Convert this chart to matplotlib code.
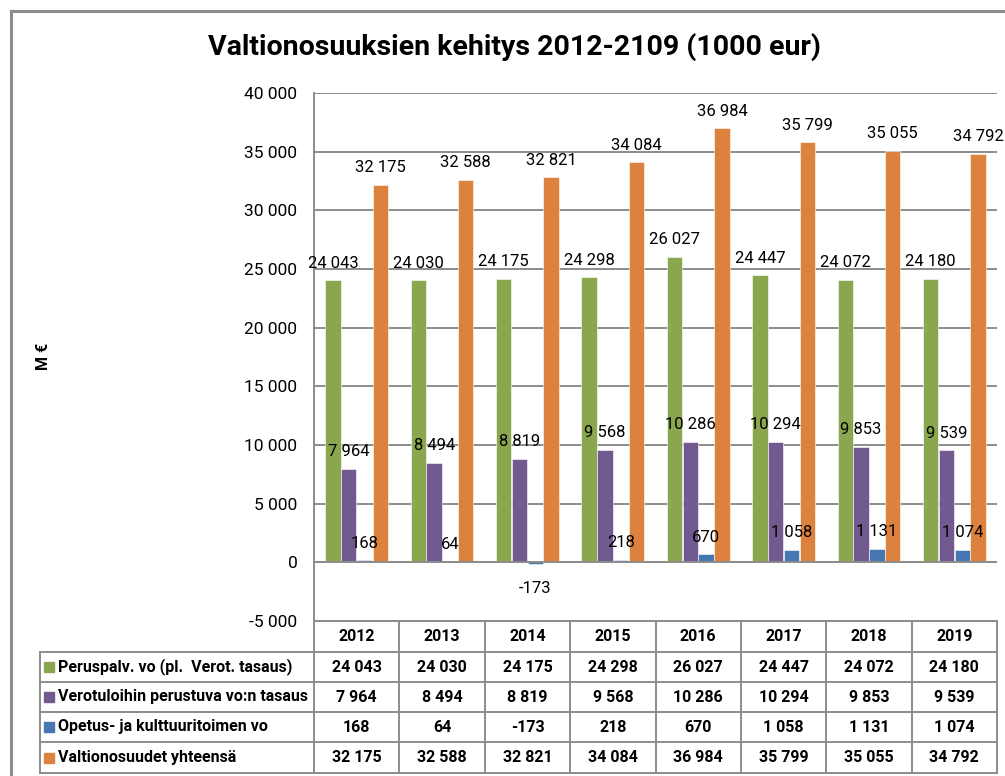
import matplotlib
matplotlib.use("Agg")
import matplotlib.pyplot as plt
from matplotlib import font_manager
import numpy as np

# data
years = ["2012", "2013", "2014", "2015", "2016", "2017", "2018", "2019"]
peruspalv = [24043, 24030, 24175, 24298, 26027, 24447, 24072, 24180]
verotulo = [7964, 8494, 8819, 9568, 10286, 10294, 9853, 9539]
opetus = [168, 64, -173, 218, 670, 1058, 1131, 1074]
yhteensa = [32175, 32588, 32821, 34084, 36984, 35799, 35055, 34792]

series_names = ["Peruspalv. vo (pl.  Verot. tasaus)",
                "Verotuloihin perustuva vo:n tasaus",
                "Opetus- ja kulttuuritoimen vo",
                "Valtionosuudet yhteensä"]
series_vals = [peruspalv, verotulo, opetus, yhteensa]
colors = ["#8AA64E", "#725A90", "#4677B2", "#DD823E"]

yticks = list(range(-5000, 40001, 5000))
title = "Valtionosuuksien kehitys 2012-2109 (1000 eur)"

installed = {f.name for f in font_manager.fontManager.ttflist}
for fam in ["Liberation Sans Narrow", "Roboto", "Lato", "DejaVu Sans"]:
    if fam in installed:
        plt.rcParams["font.family"] = [fam, "DejaVu Sans"]
        break


def fmt(v):
    return f"{v:,}".replace(",", " ")


W, H = 1005, 776
fig = plt.figure(figsize=(W / 100, H / 100), dpi=100)

# plot area in pixels
L, R, T, B = 314, 997, 93, 621
ax = fig.add_axes([L / W, 1 - B / H, (R - L) / W, (B - T) / H])

n = len(years)
x = np.arange(n)
bw = 0.18
for i, (vals, c) in enumerate(zip(series_vals, colors)):
    pos = x + (i - 1.5) * 0.185
    ax.bar(pos, vals, width=bw, color=c, zorder=2, edgecolor="white", linewidth=0.4)
    for p, v in zip(pos, vals):
        off = 7 if v >= 0 else -12
        ax.annotate(fmt(v), (p, v), xytext=(0, off), textcoords="offset points",
                    ha="center", va="bottom" if v >= 0 else "top",
                    fontsize=12, zorder=4)

ax.set_xlim(-0.5, n - 0.5)
ax.set_ylim(-5000, 40000)
ax.set_yticks(yticks)
ax.set_yticklabels([fmt(t) for t in yticks], fontsize=12.5)
ax.tick_params(axis="y", length=0, pad=12)
ax.set_xticks([])
ax.grid(axis="y", color="#8C8C8C", linewidth=1.4, zorder=0)
ax.axhline(0, color="#8C8C8C", linewidth=1.4, zorder=3)
for s in ["top", "right", "bottom"]:
    ax.spines[s].set_visible(False)
ax.spines["left"].set_color("#8C8C8C")
ax.spines["left"].set_linewidth(1.4)

# overlay in pixel coords for title, label, table, frame
ov = fig.add_axes([0, 0, 1, 1], facecolor="none")
ov.set_xlim(0, W)
ov.set_ylim(H, 0)
ov.axis("off")

ov.text(514, 47, title, ha="center", va="center", fontsize=20.5, fontweight="bold")
ov.text(44, 356, "M €", ha="center", va="center", rotation=90, fontsize=11.5, fontweight="bold")

gray = "#8C8C8C"
lw = 1.4
# outer frame
ov.plot([11, W], [11, 11], color=gray, lw=2.2)
ov.plot([11, 11], [11, H], color=gray, lw=2.2)

# table
rows_y = [621, 652, 682, 712, 742, 773]
colw = (R - L) / n
col_x = [L + k * colw for k in range(n + 1)]
tl = 40
ov.plot([L, R], [rows_y[0], rows_y[0]], color=gray, lw=lw)
for yy in rows_y[1:]:
    ov.plot([tl, R], [yy, yy], color=gray, lw=lw)
for xx in col_x:
    ov.plot([xx, xx], [rows_y[0], rows_y[-1]], color=gray, lw=lw)
ov.plot([tl, tl], [rows_y[1], rows_y[-1]], color=gray, lw=lw)

for k, yr in enumerate(years):
    ov.text((col_x[k] + col_x[k + 1]) / 2, (rows_y[0] + rows_y[1]) / 2, yr,
            ha="center", va="center", fontsize=11.5, fontweight="bold")

for r, (name, vals, c) in enumerate(zip(series_names, series_vals, colors)):
    yc = (rows_y[r + 1] + rows_y[r + 2]) / 2
    ov.add_patch(plt.Rectangle((44, yc - 5), 10, 10, color=c))
    ov.text(58, yc, name, ha="left", va="center", fontsize=11.5, fontweight="bold")
    for k, v in enumerate(vals):
        ov.text((col_x[k] + col_x[k + 1]) / 2, yc, fmt(v),
                ha="center", va="center", fontsize=11.5, fontweight="bold")

fig.savefig("out.png", dpi=100)
